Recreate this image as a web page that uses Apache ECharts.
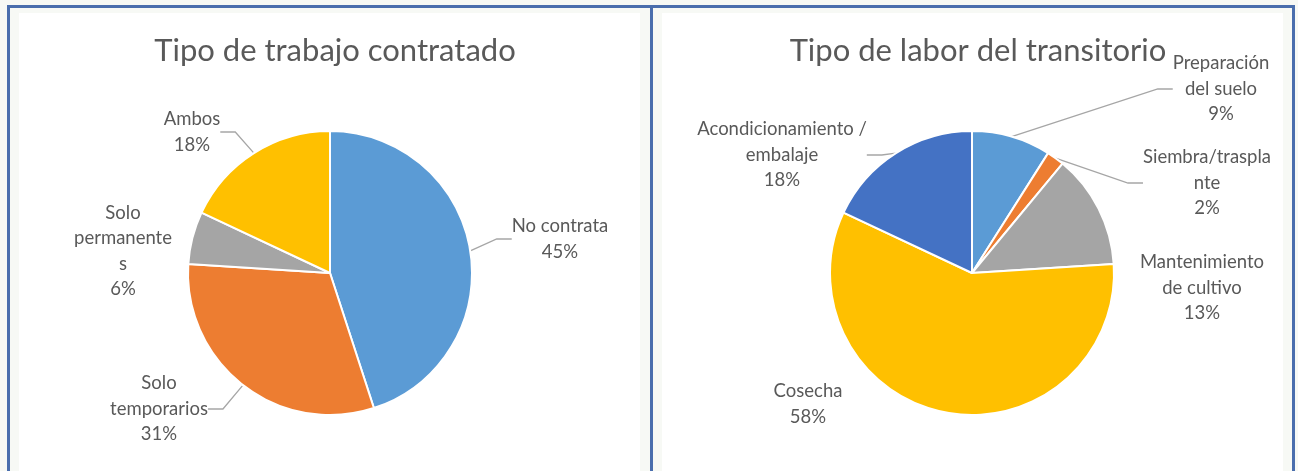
<!DOCTYPE html>
<html><head><meta charset="utf-8">
<script src="https://cdn.jsdelivr.net/npm/echarts@6/dist/echarts.min.js"></script>
<style>
html,body{margin:0;padding:0;width:1298px;height:471px;background:#f7f9f5;overflow:hidden;position:relative}
.b{position:absolute;background:#4a6ead}
.w{position:absolute;background:#fff}
#c{position:absolute;left:0;top:0;width:1298px;height:471px}
</style></head><body>
<div class="w" style="left:19px;top:13px;width:621px;height:458px"></div>
<div class="w" style="left:662px;top:13px;width:621px;height:458px"></div>
<div class="b" style="left:7px;top:5px;width:3px;height:466px"></div>
<div class="b" style="left:7px;top:5px;width:1288px;height:3px"></div>
<div class="b" style="left:650px;top:5px;width:3px;height:466px"></div>
<div class="b" style="left:1292px;top:5px;width:3px;height:466px"></div>
<div id="c"></div>
<script>
const leftTitle = 'Tipo de trabajo contratado';
const leftCategories = ['No contrata', 'Solo\ntemporarios', 'Solo\npermanente\ns', 'Ambos'];
const leftValues = [45, 31, 6, 18];
const rightTitle = 'Tipo de labor del transitorio';
const rightCategories = ['Preparación\ndel suelo', 'Siembra/traspla\nnte', 'Mantenimiento\nde cultivo', 'Cosecha', 'Acondicionamiento /\nembalaje'];
const rightValues = [9, 2, 13, 58, 18];

const leftColors = ['#5b9bd5', '#ed7d31', '#a5a5a5', '#ffc000'];
const rightColors = ['#5b9bd5', '#ed7d31', '#a5a5a5', '#ffc000', '#4472c4'];
const labelPos = [
  [[560, 239], [159, 409], [123, 251], [192, 132]],
  [[1221, 89], [1207, 183], [1202, 288], [808, 404], [782, 155]]
];
const noLine = [[2], [2, 3]];
const FONT = 'Lato, "Open Sans", sans-serif';

function buildData(cats, vals, colors, si) {
  return cats.map((c, i) => ({
    name: c, value: vals[i],
    itemStyle: { color: colors[i] },
    labelLine: { show: noLine[si].indexOf(i) < 0 }
  }));
}
function pieSeries(cats, vals, colors, center, si) {
  return {
    type: 'pie', radius: 142, center: center, startAngle: 90, clockwise: true,
    avoidLabelOverlap: false, animation: false,
    itemStyle: { borderColor: '#ffffff', borderWidth: 2 },
    label: {
      show: true, position: 'outside', color: '#595959', fontSize: 18.5, lineHeight: 25.5,
      fontFamily: FONT, align: 'center',
      formatter: p => p.name + '\n' + Math.round(p.percent) + '%'
    },
    labelLine: { show: true, length: 10, length2: 15, lineStyle: { color: '#a6a6a6', width: 1.3 } },
    labelLayout: p => ({ x: labelPos[si][p.dataIndex][0], y: labelPos[si][p.dataIndex][1], align: 'center', verticalAlign: 'middle' }),
    emphasis: { disabled: true },
    data: buildData(cats, vals, colors, si)
  };
}
const chart = echarts.init(document.getElementById('c'), null, { renderer: 'canvas' });
chart.setOption({
  backgroundColor: 'transparent',
  title: [
    { text: leftTitle, left: 330, top: 30, textAlign: 'center', textStyle: { color: '#595959', fontSize: 31, fontWeight: 'normal', fontFamily: FONT } },
    { text: rightTitle, left: 973, top: 30, textAlign: 'center', textStyle: { color: '#595959', fontSize: 31, fontWeight: 'normal', fontFamily: FONT } }
  ],
  series: [
    pieSeries(leftCategories, leftValues, leftColors, [330, 273], 0),
    pieSeries(rightCategories, rightValues, rightColors, [972, 273], 1)
  ]
});
</script>
</body></html>
